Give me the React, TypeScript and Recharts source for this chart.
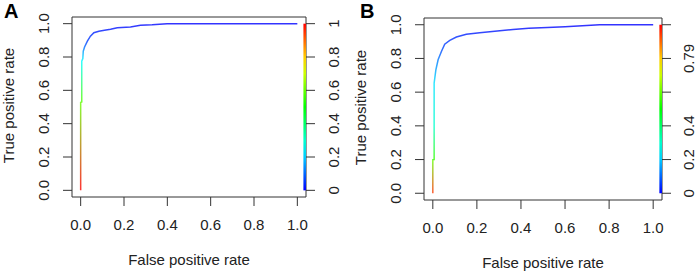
import React from "react";
import { LineChart, Line, XAxis, YAxis, ReferenceArea } from "recharts";

// panel A: ROC points and the cutoff at each point
const fprA = [0, 0, 0.005, 0.005, 0.01, 0.012, 0.018, 0.031, 0.045, 0.061, 0.084, 0.11, 0.138, 0.169, 0.23, 0.276, 0.33, 0.399, 1.0];
const tprA = [0, 0.527, 0.53, 0.775, 0.79, 0.835, 0.86, 0.895, 0.925, 0.946, 0.955, 0.96, 0.966, 0.976, 0.98, 0.99, 0.993, 1.0, 1.0];
const cutA = [1.0, 0.6, 0.58, 0.25, 0.22, 0.15, 0.1, 0.06, 0.045, 0.035, 0.03, 0.025, 0.02, 0.015, 0.012, 0.01, 0.008, 0.005, 0];

// panel B
const fprB = [0, 0, 0.006, 0.006, 0.006, 0.014, 0.024, 0.039, 0.054, 0.077, 0.107, 0.152, 0.213, 0.304, 0.364, 0.435, 0.52, 0.6, 0.757, 1.0];
const tprB = [0, 0.198, 0.2, 0.4, 0.654, 0.733, 0.792, 0.841, 0.885, 0.907, 0.927, 0.944, 0.953, 0.965, 0.972, 0.979, 0.984, 0.988, 1.0, 1.0];
const cutB = [0.95, 0.6, 0.55, 0.3, 0.22, 0.16, 0.12, 0.08, 0.06, 0.05, 0.04, 0.03, 0.025, 0.02, 0.015, 0.01, 0.008, 0.005, 0.002, 0];

const rateTicks = [0, 0.2, 0.4, 0.6, 0.8, 1];
const rateLabels = ["0.0", "0.2", "0.4", "0.6", "0.8", "1.0"];
const cutTicks = [0, 0.2, 0.4, 0.6, 0.8, 1];
const cutLabelsA = ["0", "0.2", "0.4", "0.6", "0.8", "1"];
const cutLabelsB = ["0", "0.2", "0.4", "", "0.79", ""];

const FONT = "'Liberation Sans', Arial, sans-serif";
const INK = "#222";
const AXIS = "#333";
const DOMAIN: [number, number] = [-0.04, 1.04];

// reversed rainbow: low cutoff blue, high cutoff red
const rainbow = (c: number) => `hsl(${Math.round(240 * (1 - c))}, 100%, 50%)`;
const barSteps = [0, 0.1, 0.2, 0.3, 0.4, 0.5, 0.6, 0.7, 0.8, 0.9, 1];

function BottomTick(props: any) {
  const { x, y, payload } = props;
  const i = rateTicks.indexOf(payload.value);
  return (
    <text x={x} y={y} dy="0.71em" textAnchor="middle" fontSize={15} fontFamily={FONT} fill={INK}>
      {rateLabels[i]}
    </text>
  );
}

function SideTick(props: any) {
  const { x, y, payload, labels, ticks } = props;
  const i = ticks.indexOf(payload.value);
  return (
    <text
      x={x}
      y={y}
      dy="0.35em"
      textAnchor="middle"
      transform={`rotate(-90 ${x} ${y})`}
      fontSize={15}
      fontFamily={FONT}
      fill={INK}
    >
      {labels[i]}
    </text>
  );
}

function Panel(props: {
  id: string;
  fpr: number[];
  tpr: number[];
  cut: number[];
  cutLabels: string[];
  width: number;
  top: number;
  leftW: number;
  rightW: number;
  bottomH: number;
  rightMargin: number;
}) {
  const { id, fpr, tpr, cut, cutLabels, width, top, leftW, rightW, bottomH, rightMargin } = props;
  const data = fpr.map((f, i) => ({ fpr: f, tpr: tpr[i] }));
  // invisible series that ties the cutoff scale to the right axis
  const scaleData = barSteps.map((s) => ({ fpr: 1.034, level: s }));

  return (
    <LineChart width={width} height={275} data={data} margin={{ top, right: 0, bottom: 0, left: 0 }}>
      <defs>
        <linearGradient id={`curve${id}`} x1="0" y1="1" x2="0" y2="0">
          {tpr.map((t, i) => (
            <stop key={i} offset={t} stopColor={rainbow(cut[i])} />
          ))}
        </linearGradient>
        <linearGradient id={`bar${id}`} x1="0" y1="1" x2="0" y2="0">
          {barSteps.map((s) => (
            <stop key={s} offset={s} stopColor={rainbow(s)} />
          ))}
        </linearGradient>
      </defs>

      <XAxis
        dataKey="fpr"
        type="number"
        domain={DOMAIN}
        ticks={rateTicks}
        height={bottomH}
        axisLine={false}
        tickLine={{ stroke: AXIS }}
        tickSize={9}
        tickMargin={13}
        tick={BottomTick}
        allowDataOverflow
        label={{
          content: (p: any) => {
            const vb = p.viewBox;
            return (
              <text x={vb.x + vb.width / 2} y={vb.y + 67.5} textAnchor="middle" fontSize={15} fontFamily={FONT} fill={INK}>
                False positive rate
              </text>
            );
          },
        }}
      />
      <YAxis
        type="number"
        domain={DOMAIN}
        ticks={rateTicks}
        width={leftW}
        axisLine={false}
        tickLine={{ stroke: AXIS }}
        tickSize={9}
        tickMargin={19}
        allowDataOverflow
        tick={(p: any) => <SideTick {...p} labels={rateLabels} ticks={rateTicks} />}
        label={{
          content: (p: any) => {
            const vb = p.viewBox;
            const x = vb.x + vb.width - 58;
            const y = vb.y + vb.height / 2 - 1.5;
            return (
              <text x={x} y={y} textAnchor="middle" transform={`rotate(-90 ${x} ${y})`} fontSize={15} fontFamily={FONT} fill={INK}>
                True positive rate
              </text>
            );
          },
        }}
      />
      <YAxis
        yAxisId="cut"
        orientation="right"
        type="number"
        domain={DOMAIN}
        ticks={cutTicks}
        width={rightW}
        axisLine={false}
        tickLine={{ stroke: AXIS }}
        tickSize={9}
        tickMargin={rightMargin}
        allowDataOverflow
        tick={(p: any) => <SideTick {...p} labels={cutLabels} ticks={cutTicks} />}
      />

      <ReferenceArea x1={DOMAIN[0]} x2={DOMAIN[1]} y1={DOMAIN[0]} y2={DOMAIN[1]} fill="none" fillOpacity={0} stroke={AXIS} strokeWidth={1} ifOverflow="visible" />

      <Line
        type="linear"
        dataKey="tpr"
        stroke={`url(#curve${id})`}
        strokeWidth={1.5}
        strokeOpacity={0.8}
        dot={false}
        activeDot={false}
        isAnimationActive={false}
      />

      <Line
        yAxisId="cut"
        data={scaleData}
        dataKey="level"
        stroke="none"
        dot={false}
        activeDot={false}
        isAnimationActive={false}
      />

      <ReferenceArea yAxisId="cut" x1={1.028} x2={1.04} y1={0} y2={1} fill={`url(#bar${id})`} fillOpacity={1} stroke="none" ifOverflow="visible" />
    </LineChart>
  );
}

export default function App() {
  return (
    <div style={{ position: "absolute", left: 0, top: 0, width: 699, height: 275, background: "#fff" }}>
      <div style={{ position: "absolute", left: 0, top: 0 }}>
        <Panel id="A" fpr={fprA} tpr={tprA} cut={cutA} cutLabels={cutLabelsA} width={350} top={17} leftW={72} rightW={44} bottomH={78} rightMargin={19} />
      </div>
      <div style={{ position: "absolute", left: 350, top: 0 }}>
        <Panel id="B" fpr={fprB} tpr={tprB} cut={cutB} cutLabels={cutLabelsB} width={349} top={18} leftW={74} rightW={37} bottomH={75} rightMargin={18} />
      </div>
      <svg width={699} height={275} style={{ position: "absolute", left: 0, top: 0, pointerEvents: "none" }}>
        <text x={4} y={18.3} fontSize={20} fontWeight="bold" fontFamily={FONT} fill="#000">A</text>
        <text x={360} y={18.3} fontSize={20} fontWeight="bold" fontFamily={FONT} fill="#000">B</text>
      </svg>
    </div>
  );
}
